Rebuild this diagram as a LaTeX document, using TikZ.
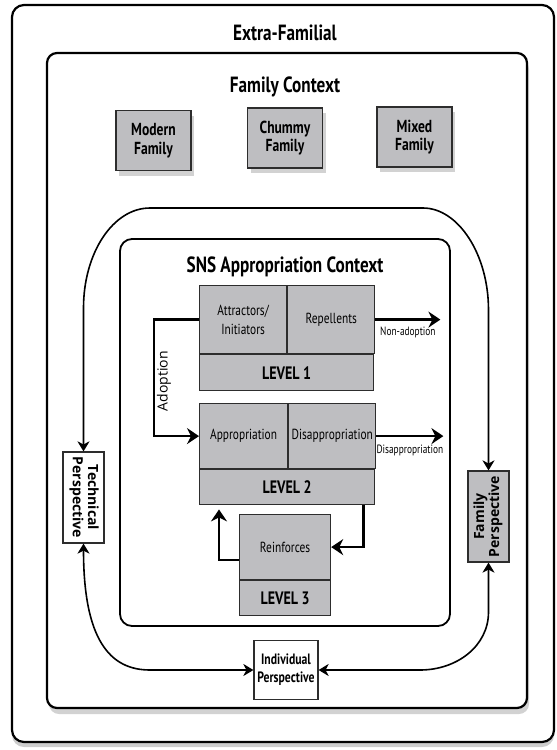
\documentclass[tikz,border=0pt]{standalone}
\usepackage{fontspec}
\setmainfont{PT Sans}[FakeStretch=0.78]
\newfontfamily\widefont{Open Sans}
\usetikzlibrary{arrows.meta,calc,shadows}
\definecolor{boxgray}{RGB}{190,190,193}
\definecolor{edgegray}{RGB}{45,45,45}

\begin{document}
\begin{tikzpicture}[x=0.5pt,y=-0.5pt,
  ctxframe/.style={draw=black,line width=1.1pt,fill=white,rounded corners=6pt},
  heading/.style={font=\bfseries\fontsize{11}{13}\selectfont,anchor=base},
  famtype/.style={draw=edgegray,line width=0.6pt,fill=boxgray,minimum width=37.5pt,minimum height=30pt,
    align=center,inner sep=1pt,font=\bfseries\fontsize{8.7}{9.2}\selectfont,
    drop shadow={shadow xshift=1.5pt,shadow yshift=-2.5pt,opacity=.35}},
  cell/.style={draw=edgegray,line width=0.6pt,fill=boxgray,anchor=north west,align=center,
    inner sep=0pt,font=\fontsize{7.3}{9.5}\selectfont},
  levelbar/.style={cell,font=\bfseries\fontsize{9}{10}\selectfont},
  persp/.style={draw=edgegray,line width=0.6pt,align=center,inner sep=0pt},
  flow/.style={line width=1.3pt,-{Stealth[length=6pt,width=8pt,inset=2pt]}},
  loopline/.style={line width=0.8pt,{Stealth[length=5pt,width=6pt,inset=1.5pt]}-{Stealth[length=5pt,width=6pt,inset=1.5pt]}},
  flowlabel/.style={font=\fontsize{6}{7}\selectfont,inner sep=0pt}]
\useasboundingbox (0,0) rectangle (557,750);

% outer contexts
\draw[ctxframe,drop shadow={shadow xshift=0pt,shadow yshift=-2.5pt,opacity=.4}] (12,5) rectangle (554,742);
\node[heading] (extra) at (285,40) {Extra-Familial};
\draw[ctxframe,rounded corners=5pt,drop shadow={shadow xshift=1pt,shadow yshift=-3pt,opacity=.35}] (47,53) rectangle (527,708);
\node[heading] (family) at (285,92) {Family Context};

\node[famtype] (modern) at (153.5,140.5) {Modern\\Family};
\node[famtype] (chummy) at (285,138) {Chummy\\Family};
\node[famtype] (mixed) at (414.5,137) {Mixed\\Family};

\draw[ctxframe,line width=0.9pt] (120,239) rectangle (450,626);
\node[heading] (sns) at (285,272) {SNS Appropriation Context};

% levels
\node[cell,minimum width=43.5pt,minimum height=34pt] (attr) at (199,285) {Attractors/\\Initiators};
\node[cell,minimum width=43.5pt,minimum height=34pt] (rep) at (attr.north east) {Repellents};
\node[levelbar,minimum width=87pt,minimum height=18pt] (lvl1) at (attr.south west) {LEVEL 1};

\node[cell,minimum width=44pt,minimum height=32.5pt] (appr) at (199,403) {Appropriation};
\node[cell,minimum width=43.5pt,minimum height=32.5pt] (disap) at (appr.north east) {Disappropriation};
\node[levelbar,minimum width=87.5pt,minimum height=17.5pt] (lvl2) at (appr.south west) {LEVEL 2};

\node[cell,minimum width=45.5pt,minimum height=32.5pt] (reinf) at (239,514) {Reinforces};
\node[levelbar,minimum width=45.5pt,minimum height=17.5pt] (lvl3) at (reinf.south west) {LEVEL 3};

\draw[flow] (attr.west) -- ++(-45,0) |- (appr.west);
\node[rotate=90,font=\widefont\fontsize{7}{8}\selectfont] (adopt) at (164,381) {Adoption};
\draw[flow] (rep.east) -- node[flowlabel,below=3pt] (nonlbl) {Non-adoption} ++(65,0) coordinate (nonadopt);
\draw[flow] (disap.east) -- node[flowlabel,below=4pt] (dislbl) {Disappropriation} ++(67,0) coordinate (disend);
\draw[flow] ($(lvl2.south east)+(-12,0)$) |- (reinf.east);
\draw[flow] ($(reinf.west)+(0,13)$) -| ($(lvl2.south west)+(20,4)$);

% perspectives
\node[persp,fill=white,minimum width=20.5pt,minimum height=45.5pt,font=\widefont\bfseries\fontsize{7}{7.5}\selectfont] (tech) at (83.5,497.5)
  {\rotatebox{-90}{\begin{tabular}{@{}c@{}}Technical\\Perspective\end{tabular}}};
\node[persp,fill=boxgray,minimum width=20.5pt,minimum height=45.5pt,font=\widefont\bfseries\fontsize{7}{7.5}\selectfont] (fam) at (488.5,516.5)
  {\rotatebox{90}{\begin{tabular}{@{}c@{}}Family\\Perspective\end{tabular}}};
\node[persp,fill=white,minimum width=32pt,minimum height=29.5pt,font=\bfseries\fontsize{7.5}{9}\selectfont] (ind) at (286,670) {Individual\\Perspective};

\draw[loopline] (tech.north) -- (83.5,308) .. controls (83.5,253) and (113,208) .. (150,208) -- (423,208)
  .. controls (458,208) and (488.5,254) .. (488.5,310) -- (fam.north);
\draw[loopline] (tech.south) .. controls (83.5,640) and (110,670) .. (150,670) -- (ind.west);
\draw[loopline] (fam.south) -- (488.5,612) .. controls (488.5,646) and (457,670) .. (420,670) -- (ind.east);
\end{tikzpicture}
\end{document}
